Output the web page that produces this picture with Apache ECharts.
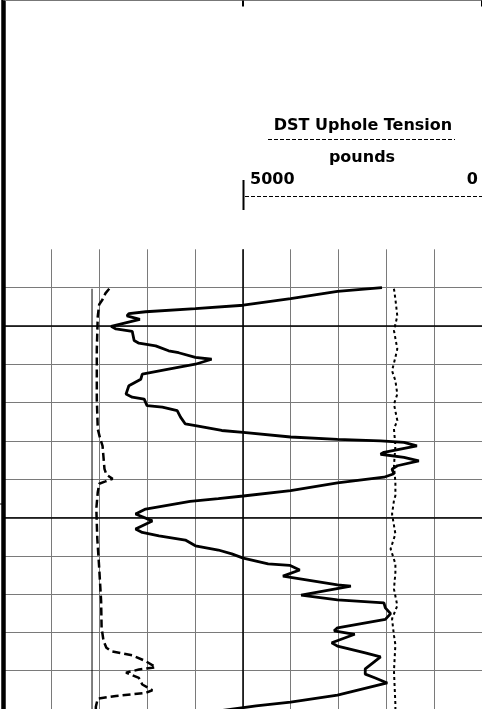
<!DOCTYPE html>
<html>
<head>
<meta charset="utf-8">
<title>DST Uphole Tension</title>
<script src="https://cdn.jsdelivr.net/npm/echarts@6/dist/echarts.min.js"></script>
<style>
    html, body { margin: 0; padding: 0; background: #fff; }
    #chart-container { width: 482px; height: 709px; }
</style>
</head>
<body>
<div id="chart-container"></div>
<script>
// x = position across the track in % (10 divisions), y = depth (10 units per division)
var solidDepth = [10.0, 11.0, 12.9, 14.6, 15.5, 16.3, 16.8, 17.4, 18.3, 20.1,
    20.8, 21.4, 23.8, 24.5, 25.2, 26.5, 27.0, 28.2, 28.7, 30.0,
    31.3, 32.6, 33.9, 35.6, 37.8, 38.6, 39.1, 40.8, 41.2, 42.1,
    43.8, 45.6, 46.0, 47.3, 47.8, 49.0, 49.6, 50.0, 50.4, 51.3,
    53.0, 53.5, 54.3, 55.2, 56.5, 57.4, 58.6, 59.5, 61.0, 63.0,
    64.4, 65.1, 65.8, 67.8, 69.1, 70.9, 73.0, 73.9, 74.8, 75.9,
    77.4, 78.5, 79.5, 80.6, 82.1, 82.5, 83.7, 85.3, 87.6, 87.9,
    90.3, 91.5, 92.3, 93.6, 95.1, 96.6, 98.8, 99.6, 100.5, 102.7,
    103.6, 105.3, 106.4, 109.5, 110.9, 111.9, 113.2, 116.4, 118.2, 119.2,
    120.5];
var solidValue = [79.1, 69.8, 60.0, 50.1, 40.1, 29.7, 26.2, 25.8, 28.5, 22.5,
    23.5, 26.9, 27.3, 28.3, 31.8, 34.5, 36.6, 40.1, 43.5, 40.1,
    34.5, 29.0, 28.7, 26.2, 25.6, 26.9, 29.4, 30.0, 33.2, 36.3,
    37.0, 38.0, 40.1, 45.6, 50.1, 60.0, 69.8, 78.8, 83.7, 86.4,
    79.5, 78.8, 83.7, 86.8, 82.3, 81.2, 81.6, 79.5, 69.8, 60.0,
    50.1, 44.9, 39.0, 29.7, 27.6, 31.1, 27.6, 29.0, 32.5, 38.0,
    40.1, 44.9, 47.7, 50.1, 55.3, 59.8, 61.9, 58.4, 69.8, 72.6,
    62.2, 69.8, 79.5, 79.8, 80.9, 79.8, 69.8, 69.1, 73.4, 68.6,
    69.8, 75.4, 78.8, 75.6, 75.6, 77.7, 80.2, 69.8, 60.0, 52.8,
    45.0];

// DST uphole tension (dashed)
var dashedDepth = [10.3, 11.5, 13.1, 14.4, 17.5, 26.1, 39.1, 46.9, 49.4, 51.3,
    57.3, 58.8, 59.9, 60.6, 61.2, 63.4, 67.7, 75.5, 83.2, 91.8,
    98.8, 102.2, 104.0, 104.9, 106.0, 107.5, 109.1, 109.7, 110.5, 111.9,
    113.6, 115.1, 115.8, 116.6, 117.3, 119.4, 121];
var dashedValue = [22.1, 21.3, 20.7, 20.0, 19.7, 19.5, 19.5, 19.7, 20.2, 20.7,
    21.1, 21.5, 22.8, 21.3, 20.0, 19.7, 19.4, 19.6, 20.0, 20.4,
    20.5, 20.9, 21.5, 22.5, 26.9, 29.7, 31.8, 28.3, 25.6, 28.3,
    29.0, 31.1, 29.7, 23.5, 19.7, 19.3, 19.3];

var dottedDepth = [10.3, 13.0, 17.4, 21.2, 26.0, 28.2, 31.7, 34.3, 37.8, 40.4,
    44.7, 46.9, 51.3, 56.5, 60.8, 64.3, 65.6, 69.1, 74.3, 78.2,
    82.1, 84.4, 88.7, 93.0, 96.5, 100.8, 103.2, 110.1, 118.8, 121];
var dottedValue = [81.6, 81.9, 82.3, 81.6, 82.3, 81.9, 81.2, 81.9, 82.3, 81.6,
    82.3, 81.6, 81.9, 81.6, 81.9, 81.9, 81.6, 81.2, 81.9, 80.9,
    81.9, 81.9, 81.6, 82.3, 81.2, 81.6, 81.9, 81.6, 81.9, 81.9];

var refDepth = [10.3, 121];
var refValue = [18.5, 18.5];

var boldDepths = [20, 70];
var scaleLabels = ['5000', '0'];

function pairs(xs, ys) {
    var out = [];
    for (var i = 0; i < xs.length; i++) {
        out.push([xs[i], ys[i]]);
    }
    return out;
}

var hidden = { show: false };
var headFont = 'bold 16px "DejaVu Sans"';

var option = {
    animation: false,
    backgroundColor: '#fff',
    grid: [
        // frame: left border and top edge
        { left: 3.5, width: 481.5, top: 0.5, bottom: -1.1 },
        // log track
        { left: 3.5, width: 481.5, top: 249.3, height: 460.8 }
    ],
    xAxis: [
        {
            gridIndex: 0, type: 'value', position: 'top', min: 0, max: 100, interval: 50,
            axisLine: { show: true, onZero: false, lineStyle: { color: '#777', width: 1 } },
            axisTick: { show: true, inside: true, length: 6, lineStyle: { color: '#000', width: 2 } },
            axisLabel: hidden, splitLine: hidden
        },
        {
            gridIndex: 1, type: 'value', min: 0, max: 100, interval: 10,
            axisLine: hidden, axisTick: hidden, axisLabel: hidden,
            splitLine: { show: true, lineStyle: { color: '#7a7a7a', width: 1 } }
        },
        {
            gridIndex: 1, type: 'value', min: 0, max: 100, interval: 50,
            axisLine: hidden, axisTick: hidden, axisLabel: hidden,
            splitLine: { show: true, showMinLine: false, showMaxLine: false, lineStyle: { color: '#000', width: 1.5 } }
        }
    ],
    yAxis: [
        {
            gridIndex: 0, type: 'value', min: 0, max: 1,
            axisLine: { show: true, onZero: false, lineStyle: { color: '#000', width: 4.5 } },
            axisTick: hidden, axisLabel: hidden, splitLine: hidden
        },
        {
            gridIndex: 1, type: 'value', inverse: true, min: 0, max: 120, interval: 10,
            axisLine: hidden, axisTick: hidden, axisLabel: hidden,
            splitLine: { show: true, showMinLine: false, lineStyle: { color: '#7a7a7a', width: 1 } }
        }
    ],
    graphic: [
        { type: 'text', x: 363, y: 126, style: { text: 'DST Uphole Tension', font: headFont, fill: '#000', align: 'center', verticalAlign: 'middle' } },
        { type: 'line', shape: { x1: 268, y1: 139.5, x2: 455, y2: 139.5 }, style: { stroke: '#000', lineWidth: 1, lineDash: [4, 2] } },
        { type: 'text', x: 362, y: 158, style: { text: 'pounds', font: headFont, fill: '#000', align: 'center', verticalAlign: 'middle' } },
        { type: 'text', x: 250, y: 180, style: { text: scaleLabels[0], font: headFont, fill: '#000', align: 'left', verticalAlign: 'middle' } },
        { type: 'text', x: 478, y: 180, style: { text: scaleLabels[1], font: headFont, fill: '#000', align: 'right', verticalAlign: 'middle' } },
        { type: 'line', shape: { x1: 245, y1: 196.5, x2: 482, y2: 196.5 }, style: { stroke: '#000', lineWidth: 1, lineDash: [4, 2] } },
        { type: 'line', shape: { x1: 243.5, y1: 180, x2: 243.5, y2: 210 }, style: { stroke: '#000', lineWidth: 2 } },
        { type: 'line', shape: { x1: 0, y1: 504, x2: 3, y2: 504 }, style: { stroke: '#000', lineWidth: 1 } }
    ],
    series: [
        {
            type: 'line', xAxisIndex: 1, yAxisIndex: 1,
            data: pairs(refValue, refDepth),
            symbol: 'none', silent: true,
            lineStyle: { color: '#000', width: 1 },
            markLine: {
                silent: true, symbol: ['none', 'none'], label: hidden,
                lineStyle: { color: '#000', width: 1.5, type: 'solid' },
                data: boldDepths.map(function (d) { return { yAxis: d }; })
            }
        },
        {
            type: 'line', xAxisIndex: 1, yAxisIndex: 1,
            data: pairs(dottedValue, dottedDepth),
            symbol: 'none', silent: true,
            lineStyle: { color: '#000', width: 2, type: [3, 3] }
        },
        {
            type: 'line', xAxisIndex: 1, yAxisIndex: 1,
            data: pairs(dashedValue, dashedDepth),
            symbol: 'none', silent: true,
            lineStyle: { color: '#000', width: 2.5, type: [8, 4] }
        },
        {
            type: 'line', xAxisIndex: 1, yAxisIndex: 1,
            data: pairs(solidValue, solidDepth),
            symbol: 'none', silent: true,
            lineStyle: { color: '#000', width: 2.8 }
        }
    ]
};

var myChart = echarts.init(document.getElementById('chart-container'));
myChart.setOption(option);
</script>
</body>
</html>
